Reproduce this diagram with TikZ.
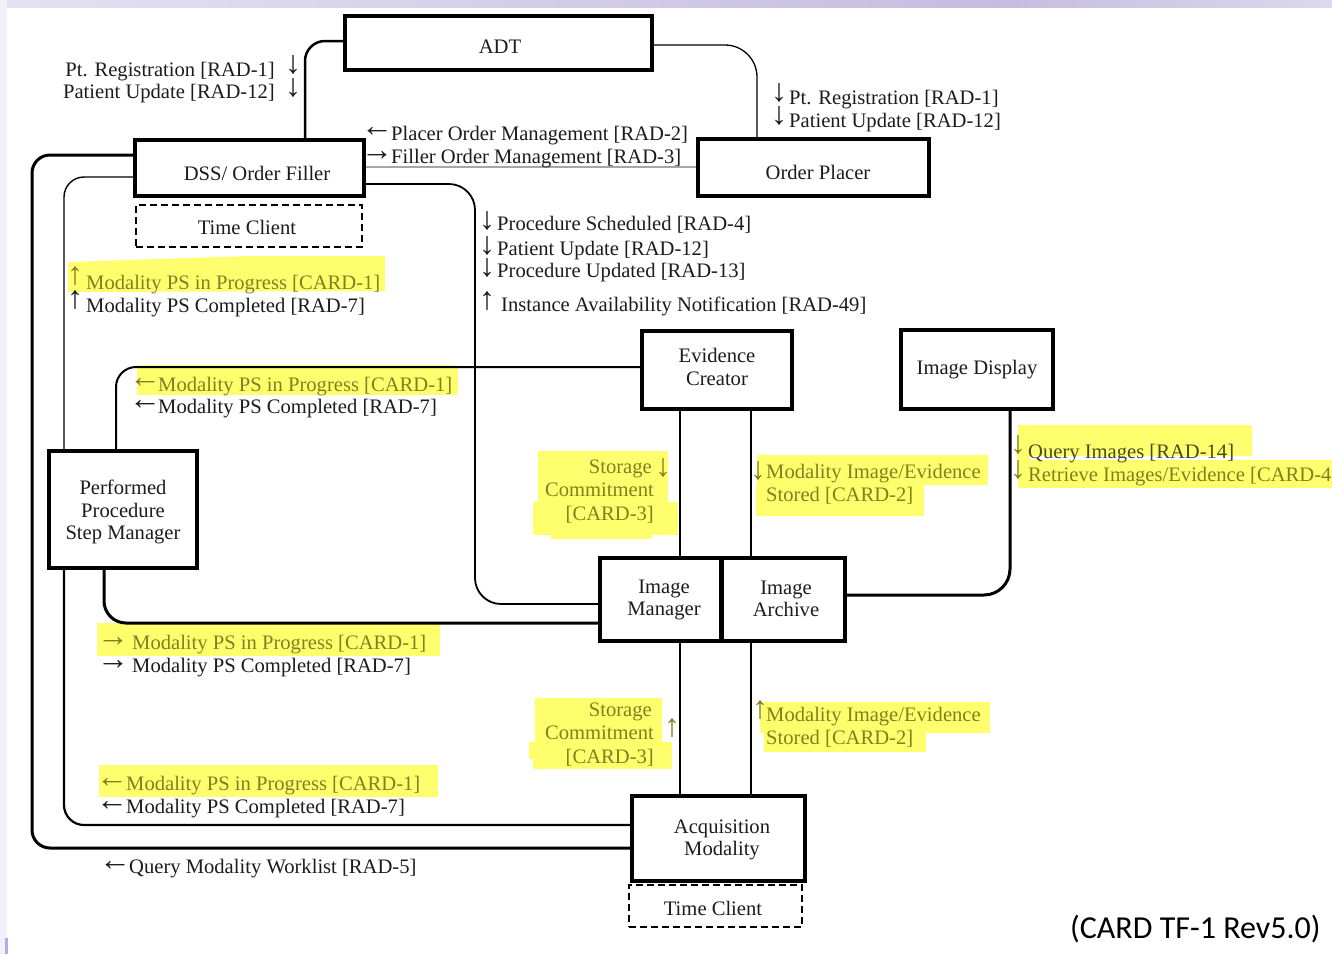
\documentclass[tikz,border=0pt]{standalone}
\usepackage{fontspec}
\setmainfont{Liberation Serif}
\newfontfamily\capfont{Carlito}
\definecolor{ink}{HTML}{1C1C1C}
\definecolor{olive}{HTML}{80801F}
\definecolor{hl}{HTML}{FFFF6E}
\definecolor{lavA}{HTML}{E4E1F3}
\definecolor{lavB}{HTML}{C6BCE0}
\definecolor{lavE}{HTML}{DCD8EE}
\definecolor{lavC}{HTML}{F1F0FB}
\definecolor{lavD}{HTML}{B9A8E6}
\colorlet{qink}{ink!55!olive}
\tikzset{
  x=1pt,y=-1pt,
  box/.style={draw=black,fill=white,line width=4pt,inner sep=0pt},
  dbox/.style={draw=black,fill=white,line width=2.4pt,dash pattern=on 7pt off 4pt,inner sep=0pt},
  tb/.style={anchor=base west,inner sep=0pt,text=ink,font=\fontsize{20.6}{24}\selectfont},
  tr/.style={tb,anchor=base east},
  tc/.style={anchor=center,inner sep=0pt,text=ink,align=center,font=\fontsize{20.6}{22.5}\selectfont},
  oli/.style={text=olive},
  arr/.style={anchor=center,inner sep=0pt,text=ink,font=\fontsize{32}{36}\selectfont},
  wire/.style={draw=black,line width=#1},
  wire/.default=1.3pt,
  yel/.style={fill=hl,draw=none},
}
\begin{document}
\begin{tikzpicture}
\useasboundingbox (0,0) rectangle (1332,954);
\clip (0,0) rectangle (1332,954);
% backdrop
\fill[white] (0,0) rectangle (1332,954);
\shade[left color=lavA,right color=lavB] (0,0) rectangle (1000,7);
\shade[left color=lavB,right color=lavE] (1000,0) rectangle (1332,7);
\fill[lavC] (0,0) rectangle (7,954);
\fill[lavD] (5,938) rectangle (8,954);
% highlights
\fill[yel] (68,262) -- (250,256) -- (385,256) -- (385,291) -- (68,292) -- cycle;
\fill[yel] (137,365) rectangle (458,395);
\fill[yel] (538,451) rectangle (668,502);
\fill[yel] (533,502) rectangle (678,535);
\fill[yel] (551,535) rectangle (652,539);
\fill[yel] (757,455) rectangle (988,485);
\fill[yel] (756,485) rectangle (924,516);
\fill[yel] (1018,425) rectangle (1252,456);
\fill[yel] (1018,460) rectangle (1332,488);
\fill[yel] (1017,435) rectangle (1030,460);
\fill[yel] (97,623) rectangle (440,656);
\fill[yel] (535,698) rectangle (662,742);
\fill[yel] (529,742) rectangle (672,759);
\fill[yel] (533,759) rectangle (672,769);
\fill[yel] (99,765) rectangle (438,797);
\fill[yel] (760,702) rectangle (990,733);
\fill[yel] (764,733) rectangle (926,752);
% boxes
\node[box,minimum width=307pt,minimum height=54pt] (adt) at (498.5,43) {};
\node[box,minimum width=229pt,minimum height=56pt] (dss) at (249.5,168) {};
\node[dbox,minimum width=226pt,minimum height=42pt] (tc1) at (249,226) {};
\node[box,minimum width=231pt,minimum height=57pt] (op) at (813.5,167.5) {};
\node[box,minimum width=150pt,minimum height=78pt] (ec) at (717,370) {};
\node[box,minimum width=152pt,minimum height=79pt] (id) at (977,369.5) {};
\node[box,minimum width=148pt,minimum height=117pt] (pp) at (123,509.5) {};
\node[box,minimum width=121pt,minimum height=83pt] (im) at (660.5,599.5) {};
\node[box,minimum width=123pt,minimum height=83pt] (ia) at (783,599.5) {};
\node[box,minimum width=173pt,minimum height=85pt] (am) at (718.5,838.5) {};
\node[dbox,minimum width=173pt,minimum height=42pt] (tc2) at (715.5,906) {};
% connectors
\draw[wire=2.5pt,rounded corners=20pt] (adt.west |- 0,41) -- (305,41) -- (dss.north -| 305,0);
\draw[wire=1.3pt,rounded corners=32pt] (adt.east |- 0,45) -- (757,45) -- (op.north -| 757,0);
\draw[draw=gray!70,line width=1.6pt] (dss.east |- 0,167) -- (op.west |- 0,167);
\draw[wire=1.8pt,rounded corners=26pt] (dss.east |- 0,184) -- (475,184) -- (475,604) -- (im.west |- 0,604);
\draw[wire=3pt,rounded corners=18pt] (dss.west |- 0,155) -- (32,155) -- (32,848) -- (am.west |- 0,848);
\draw[wire=1.4pt,rounded corners=20pt] (dss.west |- 0,177) -- (64,177) -- (pp.north -| 64,0);
\draw[wire=2.2pt,rounded corners=20pt] (pp.south -| 64,0) -- (64,825) -- (am.west |- 0,825);
\draw[wire=2pt,rounded corners=20pt] (ec.west |- 0,367) -- (116,367) -- (pp.north -| 116,0);
\draw[wire=3pt,rounded corners=22pt] (pp.south -| 104,0) -- (104,623) -- (im.west |- 0,623);
\draw[wire] (ec.south -| 680,0) -- (im.north -| 680,0);
\draw[wire] (ec.south -| 751,0) -- (ia.north -| 751,0);
\draw[wire] (im.south -| 680,0) -- (am.north -| 680,0);
\draw[wire] (ia.south -| 751,0) -- (am.north -| 751,0);
\draw[wire=3pt,rounded corners=26pt] (id.south -| 1010,0) -- (1010,595) -- (ia.east |- 0,595);
% box captions
\node[tc] (tadt) at (500,47) {ADT};
\node[tc] (tdss) at (257,173) {DSS/ Order Filler};
\node[tc] (ttc1) at (247,227) {Time Client};
\node[tc] (top) at (818,172) {Order Placer};
\node[tc] (tec) at (717,367) {Evidence\\[1pt]Creator};
\node[tc] (tid) at (977,370) {Image Display};
\node[tc] (tpp) at (123,512) {Performed\\Procedure\\Step Manager};
\node[tc] (tim) at (664,600) {Image\\Manager};
\node[tc] (tia) at (786,599) {Image\\Archive};
\node[tc] (tam) at (722,840) {Acquisition\\Modality};
\node[tc] (ttc2) at (713,908) {Time Client};
% labels top
\node[tr] (l1) at (275,76) {Pt. Registration [RAD-1]};
\node[tr] (l2) at (275,98) {Patient Update [RAD-12]};
\node[arr] (a1) at (293,65) {↓};
\node[arr] (a2) at (293,88) {↓};
\node[tb] (l3) at (391,140) {Placer Order Management [RAD-2]};
\node[tb] (l4) at (391,163) {Filler Order Management [RAD-3]};
\node[arr] (a3) at (377,132) {←};
\node[arr] (a4) at (377,156) {→};
\node[tb] (l5) at (789,104) {Pt. Registration [RAD-1]};
\node[tb] (l6) at (789,127) {Patient Update [RAD-12]};
\node[arr] (a5) at (779,93) {↓};
\node[arr] (a6) at (779,116) {↓};
\node[tb] (l7) at (497,230) {Procedure Scheduled [RAD-4]};
\node[tb] (l8) at (497,255) {Patient Update [RAD-12]};
\node[tb] (l9) at (497,277) {Procedure Updated [RAD-13]};
\node[tb] (l10) at (501,311) {Instance Availability Notification [RAD-49]};
\node[arr] (a7) at (487,221) {↓};
\node[arr] (a8) at (487,246) {↓};
\node[arr] (a9) at (487,268) {↓};
\node[arr] (a10) at (487,301) {↑};
% PS groups
\node[tb,oli] (p1) at (86,289) {Modality PS in Progress [CARD-1]};
\node[tb] (p2) at (86,312) {Modality PS Completed [RAD-7]};
\node[arr,oli] (pa1) at (75,276) {↑};
\node[arr] (pa2) at (75,300) {↑};
\node[tb,oli] (p3) at (158,391) {Modality PS in Progress [CARD-1]};
\node[tb] (p4) at (158,413) {Modality PS Completed [RAD-7]};
\node[arr,oli] (pa3) at (145,383) {←};
\node[arr] (pa4) at (145,405) {←};
\node[tb,oli] (p5) at (132,649) {Modality PS in Progress [CARD-1]};
\node[tb] (p6) at (132,672) {Modality PS Completed [RAD-7]};
\node[arr,oli] (pa5) at (113,642) {→};
\node[arr] (pa6) at (113,665) {→};
\node[tb,oli] (p7) at (126,790) {Modality PS in Progress [CARD-1]};
\node[tb] (p8) at (126,813) {Modality PS Completed [RAD-7]};
\node[arr,oli] (pa7) at (112,783) {←};
\node[arr] (pa8) at (112,806) {←};
\node[tb] (q1) at (129,873) {Query Modality Worklist [RAD-5]};
\node[arr] (qa1) at (115,866) {←};
% storage commitment
\node[tr,oli] (s1) at (652,473) {Storage};
\node[tr,oli] (s2) at (654,496) {Commitment};
\node[tr,oli] (s3) at (654,520) {[CARD-3]};
\node[arr,oli] (sa1) at (663,468) {↓};
\node[tr,oli] (s4) at (652,716) {Storage};
\node[tr,oli] (s5) at (654,739) {Commitment};
\node[tr,oli] (s6) at (654,763) {[CARD-3]};
\node[arr,oli] (sa2) at (672,728) {↑};
% image stored
\node[tb,oli] (m1) at (766,478) {Modality Image/Evidence};
\node[tb,oli] (m2) at (766,501) {Stored [CARD-2]};
\node[arr,oli] (ma1) at (758,471) {↓};
\node[tb,oli] (m3) at (766,721) {Modality Image/Evidence};
\node[tb,oli] (m4) at (766,744) {Stored [CARD-2]};
\node[arr,oli] (ma2) at (760,710) {↑};
% query images
\node[tb,text=qink] (r1) at (1028,458) {Query Images [RAD-14]};
\node[tb,oli] (r2) at (1028,481) {Retrieve Images/Evidence [CARD-4]};
\node[arr,oli] (ra1) at (1018,445) {↓};
\node[arr,oli] (ra2) at (1018,470) {↓};
\node[anchor=base west,inner sep=0pt,text=black,font=\capfont\fontsize{32}{36}\selectfont] (cap) at (1070,938) {(CARD TF-1 Rev5.0)};
\end{tikzpicture}
\end{document}
